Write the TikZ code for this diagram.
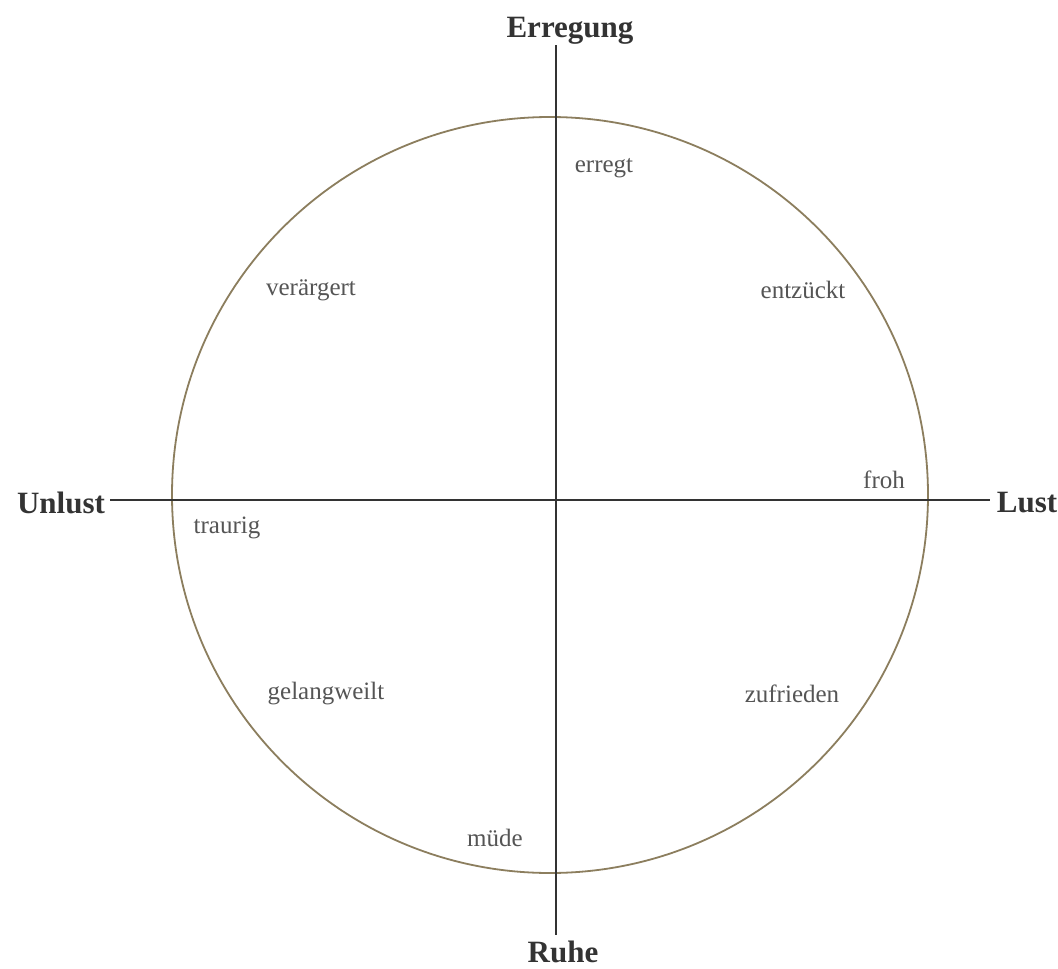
\documentclass[tikz,border=0pt]{standalone}
\usepackage{fontspec}
\setmainfont{Liberation Serif}
\definecolor{ringcol}{HTML}{8C7E5E}
\definecolor{axiscol}{HTML}{333333}
\definecolor{wordcol}{HTML}{555555}
\begin{document}
\begin{tikzpicture}[x=1pt,y=-1pt,
  axislabel/.style={font=\fontsize{31}{31}\selectfont\bfseries, text=axiscol, inner sep=0pt},
  word/.style={font=\fontsize{25}{25}\selectfont, text=wordcol, inner sep=0pt},
  axisline/.style={draw=axiscol, line width=1.8pt},
  ring/.style={draw=ringcol, line width=1.8pt}]
\useasboundingbox (0,0) rectangle (1058,969);
\fill[white] (0,0) rectangle (1058,969);
% ring
\node[ring, circle, minimum size=756pt, inner sep=0pt] (ring) at (550,495) {};
% axes
\coordinate (top) at (556,45);
\coordinate (bottom) at (556,935);
\coordinate (left) at (110,500);
\coordinate (right) at (990,500);
\draw[axisline] (top) -- (bottom);
\draw[axisline] (left) -- (right);
% axis labels
\node[axislabel] (erregung) at (570,31) {Erregung};
\node[axislabel] (ruhe) at (563,952) {Ruhe};
\node[axislabel] (unlust) at (61,503) {Unlust};
\node[axislabel] (lust) at (1027,503) {Lust};
% words
\node[word] (erregt) at (604,168) {erregt};
\node[word] (veraergert) at (311,290) {verärgert};
\node[word] (entzueckt) at (803,290) {entzückt};
\node[word] (froh) at (884,480) {froh};
\node[word] (traurig) at (227,528) {traurig};
\node[word] (gelangweilt) at (326,694) {gelangweilt};
\node[word] (zufrieden) at (792,694) {zufrieden};
\node[word] (muede) at (495,838) {müde};
\end{tikzpicture}
\end{document}
